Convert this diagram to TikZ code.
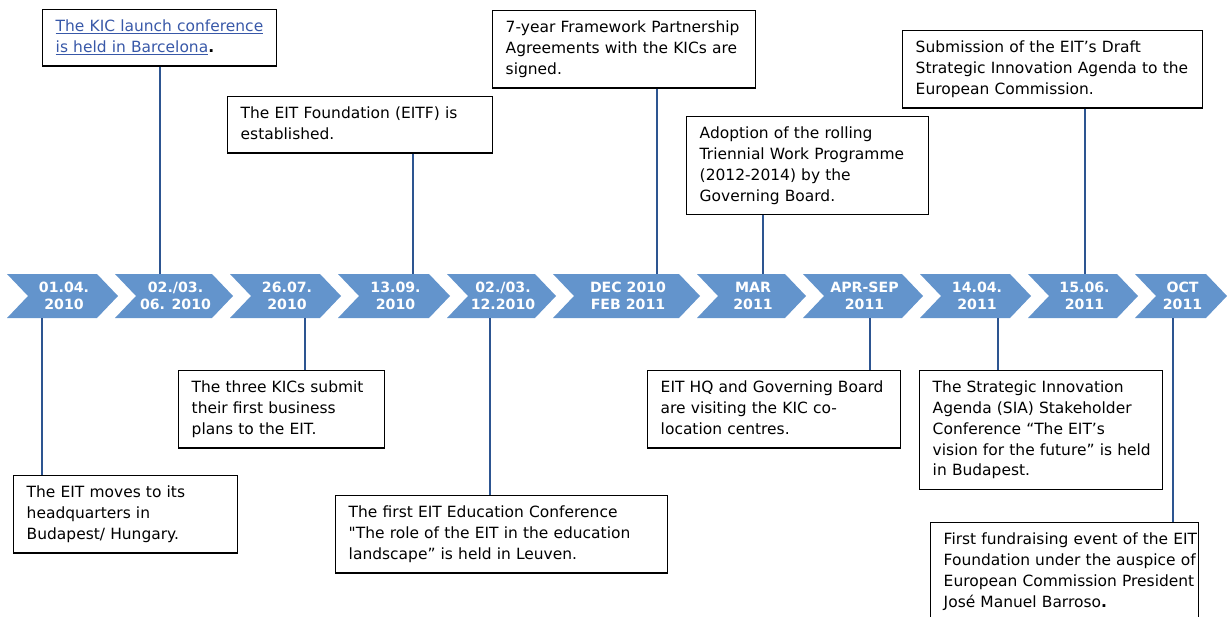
\documentclass[tikz,border=0pt]{standalone}
\usepackage{fontspec}
\setmainfont{DejaVu Sans}
\newfontfamily\plainquote{DejaVu Sans}
\usetikzlibrary{calc,positioning}
\definecolor{chevfill}{RGB}{99,148,204}
\definecolor{linkblue}{RGB}{56,88,168}
\definecolor{stemblue}{RGB}{45,85,145}
\newcommand{\boxfont}{\fontsize{11.6pt}{15.6pt}\selectfont}
\newcommand{\datefont}{\fontsize{10.6pt}{12.8pt}\selectfont\bfseries}

\begin{document}
\begin{tikzpicture}[x=0.75pt,y=-0.75pt,
    textbox/.style={draw, line width=1.1pt, anchor=north west, inner xsep=0pt, inner ysep=5.5pt,
      align=left, text width=#1*0.75pt, font=\boxfont,
      execute at begin node={\leftskip=9.75pt\strut}, execute at end node={\strut}},
    datebox/.style={text=white, font=\datefont, align=center, inner sep=0pt, minimum height=33pt},
    stem/.style={draw=stemblue, line width=2.2pt}]
  \useasboundingbox (0,0) rectangle (1227,617);
  \clip (0,0) rectangle (1227,617);

  % time line
  \foreach \s/\e/\n/\t in {7/97/1/{01.04.\\2010}, 115/212/2/{02./03.\\06. 2010},
      230/320/3/{26.07.\\2010}, 338/429/4/{13.09.\\2010}, 447/535/5/{02./03.\\12.2010},
      553/679/6/{DEC 2010\\FEB 2011}, 697/785/7/{MAR\\2011}, 803/902/8/{APR-SEP\\2011},
      920/1010/9/{14.04.\\2011}, 1028/1117/10/{15.06.\\2011}, 1135/1206/11/{OCT\\2011}}{
    \fill[chevfill] (\s,274) -- (\e,274) -- (\e+21,296) -- (\e,318) -- (\s,318) -- (\s+21,296) -- cycle;
    \node[datebox] (d\n) at ({(\s+\e)/2+12},296) {\t};
  }

  % events above
  \node[textbox=234] (kic) at (42,9) {\textcolor{linkblue}{\underline{The KIC launch conference}}\\
    \textcolor{linkblue}{\underline{is held in Barcelona}}\textbf{.}};
  \node[textbox=265] (eitf) at (227,96) {The EIT Foundation (EITF) is\\established.};
  \node[textbox=263] (fpa) at (492,10) {7-year Framework Partnership\\Agreements with the KICs are\\signed.};
  \node[textbox=242] (twp) at (686,116) {Adoption of the rolling\\Triennial Work Programme\\(2012-2014) by the\\Governing Board.};
  \node[textbox=300] (sub) at (902,30) {Submission of the EIT’s Draft\\Strategic Innovation Agenda to the\\European Commission.};

  % events below
  \node[textbox=224] (hq) at (13,475) {The EIT moves to its\\headquarters in\\Budapest/ Hungary.};
  \node[textbox=206] (plans) at (178,370) {The three KICs submit\\their first business\\plans to the EIT.};
  \node[textbox=332] (edu) at (335,495) {The first EIT Education Conference\\{\plainquote"}The role of the EIT in the education\\landscape” is held in Leuven.};
  \node[textbox=253] (visit) at (647,370) {EIT HQ and Governing Board\\are visiting the KIC co-\\location centres.};
  \node[textbox=243] (conf) at (919,370) {The Strategic Innovation\\Agenda (SIA) Stakeholder\\Conference “The EIT’s\\vision for the future” is held\\in Budapest.};
  \node[textbox=268] (fund) at (930,522) {First fundraising event of the EIT\\Foundation under the auspice of\\European Commission President\\José Manuel Barroso\textbf{.}};

  \foreach \b/\dx/\d in {kic/118/2, eitf/186/4, fpa/165/6, twp/77/7, sub/183/10}
    \draw[stem] ($(\b.south west)+(\dx,0)$) coordinate (s) -- (s |- d\d.north);
  \foreach \b/\dx/\d in {hq/29/1, plans/127/3, edu/155/5, visit/223/8, conf/79/9, fund/243/11}
    \draw[stem] ($(\b.north west)+(\dx,0)$) coordinate (s) -- (s |- d\d.south);
\end{tikzpicture}
\end{document}
